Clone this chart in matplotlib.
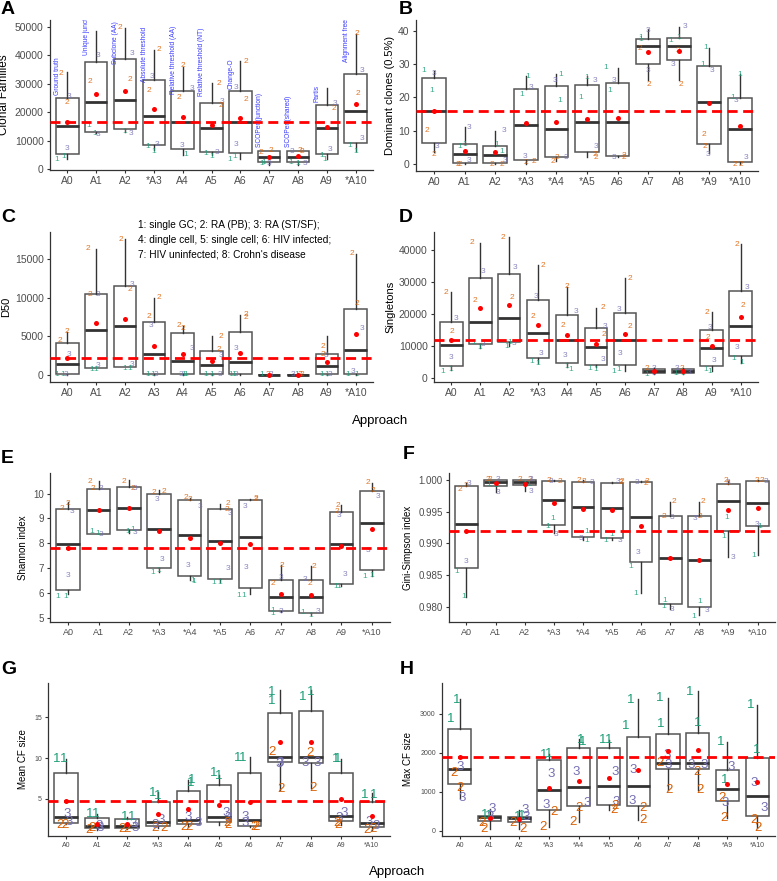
import matplotlib
matplotlib.use('Agg')
import matplotlib.pyplot as plt
from matplotlib.ticker import FormatStrFormatter

plt.rcParams['font.family'] = ['Liberation Sans', 'DejaVu Sans']

W, H = 777, 881
fig = plt.figure(figsize=(W / 100, H / 100), dpi=100)

COL = {'1': '#1B9E77', '2': '#D95F02', '3': '#7570B3'}

# ---------------- data ----------------
methods = ['Ground truth', 'Unique junction', 'Subclone (AA)', 'Absolute threshold',
           'Relative threshold (AA)', 'Relative threshold (NT)', 'Change-O',
           'SCOPer (junction)', 'SCOPer (shared)', 'Partis', 'Alignment free']
method_y = [26000, 40100, 37000, 30700, 26400, 25700, 28200, 7850, 7850, 23700, 37800]

# x tick labels per panel
A_xt = ['A0', 'A1', 'A2', '*A3', 'A4', 'A5', 'A6', 'A7', 'A8', 'A9', '*A10']
B_xt = ['A0', 'A1', 'A2', '*A3', '*A4', '*A5', 'A6', 'A7', 'A8', '*A9', '*A10']
C_xt = ['A0', 'A1', 'A2', 'A3', 'A4', 'A5', 'A6', 'A7', 'A8', 'A9', '*A10']
D_xt = ['A0', 'A1', 'A2', '*A3', 'A4', 'A5', 'A6', 'A7', 'A8', 'A9', '*A10']
E_xt = ['A0', 'A1', 'A2', '*A3', '*A4', '*A5', 'A6', 'A7', 'A8', 'A9', '*A10']
F_xt = ['A0', 'A1', 'A2', '*A3', '*A4', '*A5', 'A6', 'A7', 'A8', '*A9', '*A10']
G_xt = ['A0', 'A1', 'A2', '*A3', 'A4', 'A5', 'A6', 'A7', 'A8', 'A9', '*A10']
H_xt = ['A0', 'A1', 'A2', '*A3', '*A4', '*A5', 'A6', 'A7', 'A8', '*A9', '*A10']

# box stats: [whisker low, q1, median, q3, whisker high]
A_box = [[3500, 5200, 15300, 25000, 34200], [12600, 13200, 23500, 37700, 48600],
         [12900, 14000, 24300, 38600, 49800], [6800, 8300, 18600, 31500, 42000],
         [5000, 7000, 16500, 27500, 36000], [5000, 6000, 14600, 23400, 30400],
         [3500, 5700, 16500, 27600, 38000], [1500, 2500, 4400, 6200, 6500],
         [1300, 2500, 4400, 6200, 6400], [3500, 5200, 14300, 22700, 28400],
         [6200, 9000, 20400, 33600, 47700]]
A_mean = [16500, 26600, 27600, 21000, 18200, 15600, 18000, 4400, 4500, 14700, 23000]
A_ref = 16500
A_pts = [
    [('2', -0.23, 33500), ('3', 0.06, 25500), ('2', 0.0, 23500), ('3', 0.0, 7400), ('1', -0.35, 3300), ('1', -0.12, 4300)],
    [('3', 0.08, 40000), ('2', -0.2, 31000), ('1', -0.25, 15500), ('1', -0.06, 12600), ('3', 0.08, 12000)],
    [('2', -0.17, 49800), ('3', 0.26, 40700), ('2', 0.17, 31700), ('1', -0.02, 13200), ('3', 0.2, 12400)],
    [('2', 0.19, 42000), ('3', -0.08, 32700), ('2', -0.17, 27600), ('1', -0.2, 7900), ('1', -0.02, 6200), ('3', 0.1, 8500)],
    [('2', 0.0, 36600), ('3', 0.31, 28400), ('2', -0.13, 25100), ('3', -0.03, 8300), ('1', 0.12, 5000)],
    [('2', 0.26, 30100), ('3', 0.35, 23700), ('2', 0.33, 22200), ('3', 0.2, 5900), ('1', -0.2, 5600), ('1', 0.02, 4400)],
    [('2', 0.2, 38000), ('3', -0.15, 28600), ('2', 0.2, 24600), ('3', -0.14, 8500), ('1', -0.37, 3300), ('1', -0.2, 4400)],
    [('2', -0.27, 5700), ('2', 0.05, 6500), ('1', -0.27, 2000), ('1', -0.2, 2300), ('3', 0.0, 2000)],
    [('3', -0.2, 6200), ('2', 0.06, 6400), ('2', 0.12, 6000), ('1', -0.27, 2300), ('1', 0.0, 2000), ('3', 0.23, 2000)],
    [('3', 0.29, 23100), ('2', 0.23, 21400), ('3', 0.12, 6800), ('1', -0.17, 4800), ('1', -0.06, 3300)],
    [('2', 0.05, 47700), ('3', 0.23, 34800), ('2', 0.08, 26600), ('3', 0.23, 10900), ('1', -0.2, 8300), ('1', 0.0, 6200)],
]

B_box = [[3.7, 6.2, 16, 25.9, 28], [0, 0.2, 3.1, 5.9, 11], [0, 0.2, 2.6, 5.5, 10],
         [0, 1.3, 11.6, 22.5, 26.5], [1, 2, 10.5, 23.5, 27], [2.2, 3.5, 12.5, 23.7, 26.4],
         [2, 2.4, 12.5, 24.3, 29], [25.2, 30, 35.6, 37.7, 40.7], [25.2, 31.2, 35.6, 37.9, 41.2],
         [3.2, 6, 18.6, 29.5, 35], [0, 0.5, 10.5, 19.9, 27]]
B_mean = [15.9, 3.8, 3.5, 12.2, 12.7, 13.6, 13.9, 33.7, 34, 18.4, 11.4]
B_ref = 15.9
B_pts = [
    [('1', -0.35, 28), ('3', 0.0, 27.2), ('1', -0.1, 22.2), ('2', -0.24, 10), ('3', 0.09, 5.2), ('2', 0.0, 3)],
    [('3', 0.13, 11), ('1', -0.16, 5.2), ('1', 0.0, 6.0), ('2', -0.24, 0), ('2', -0.16, 0), ('3', 0.13, 1)],
    [('3', 0.27, 10), ('1', 0.03, 6), ('1', 0.22, 3.7), ('2', -0.1, 0), ('2', 0.2, 0), ('3', 0.33, 1.2)],
    [('1', 0.05, 26.4), ('3', 0.16, 23), ('1', -0.13, 21), ('3', -0.02, 2.2), ('2', 0.0, 0.5), ('2', 0.27, 0.7)],
    [('1', 0.14, 27), ('3', -0.04, 25), ('1', 0.12, 19), ('2', -0.13, 0.7), ('2', 0.03, 2), ('3', 0.3, 2)],
    [('1', 0.0, 26), ('3', 0.25, 25), ('1', -0.22, 20), ('3', 0.3, 5.2), ('2', 0.25, 3), ('2', 0.28, 2)],
    [('1', -0.38, 29), ('3', -0.13, 25), ('1', -0.24, 22), ('3', -0.13, 2), ('2', 0.2, 2), ('2', 0.22, 2.7)],
    [('3', 0.0, 40), ('1', -0.25, 38), ('1', -0.25, 37.3), ('2', -0.27, 34.7), ('3', 0.0, 28), ('2', 0.02, 24)],
    [('3', 0.22, 41.2), ('1', 0.0, 38), ('1', -0.25, 37), ('2', -0.03, 34.2), ('3', -0.18, 30), ('2', 0.09, 24)],
    [('1', -0.1, 35), ('1', -0.2, 30), ('3', 0.09, 28), ('2', -0.18, 9), ('2', -0.13, 5.2), ('3', -0.05, 3)],
    [('1', 0.0, 27), ('1', -0.22, 20), ('3', -0.11, 19), ('3', 0.2, 2), ('2', -0.16, 0), ('2', 0.05, 0)],
]

C_box = [[0, 100, 1400, 4100, 5600], [900, 900, 5800, 10500, 16400], [1100, 1100, 6300, 11500, 17600],
         [0, 100, 2700, 6900, 10000], [0, 100, 1800, 5400, 6400], [0, 100, 1300, 3100, 5000],
         [0, 100, 1700, 5600, 7800], [0, 0, 20, 50, 80], [0, 0, 20, 50, 80],
         [0, 100, 1200, 2700, 5000], [0, 100, 3200, 8500, 15700]]
C_mean = [2200, 6700, 7300, 3800, 2700, 1800, 2800, 30, 30, 1700, 5300]
C_ref = 2200
C_pts = [
    [('2', -0.03, 5700), ('2', -0.25, 4500), ('3', 0.06, 2700), ('1', -0.35, 100), ('1', -0.17, 100), ('3', -0.03, 100)],
    [('2', -0.29, 16400), ('2', -0.23, 10400), ('3', 0.08, 10500), ('3', 0.08, 1200), ('1', -0.17, 700), ('1', -0.02, 700)],
    [('2', -0.15, 17600), ('3', 0.26, 11700), ('2', 0.17, 11100), ('3', 0.23, 1400), ('1', 0.0, 900), ('1', 0.15, 900)],
    [('2', 0.19, 10000), ('2', -0.17, 7600), ('3', -0.1, 6400), ('1', -0.2, 100), ('1', -0.05, 100), ('3', 0.09, 100)],
    [('2', -0.13, 6400), ('2', 0.0, 6000), ('3', 0.31, 3500), ('3', -0.06, 100), ('1', 0.12, 100), ('1', 0.05, 100)],
    [('2', 0.31, 5000), ('2', 0.26, 3300), ('3', 0.33, 2500), ('1', -0.2, 100), ('1', 0.0, 100), ('3', 0.29, 100)],
    [('2', 0.2, 7800), ('2', 0.2, 7500), ('3', -0.15, 3500), ('1', -0.35, 100), ('3', -0.15, 100), ('1', -0.23, 100)],
    [('1', -0.27, 50), ('2', -0.05, 50), ('3', 0.05, 50)],
    [('3', -0.17, 50), ('2', 0.05, 50), ('2', 0.12, 50), ('1', -0.05, 50)],
    [('2', -0.12, 3700), ('2', -0.14, 2700), ('3', -0.02, 2500), ('1', -0.17, 100), ('1', -0.02, 100), ('3', 0.12, 100)],
    [('2', -0.13, 15700), ('2', 0.05, 9300), ('3', 0.23, 6000), ('3', -0.09, 400), ('1', -0.27, 100), ('1', 0.02, 100)],
]

D_box = [[2400, 3700, 10400, 17400, 26800], [9400, 10700, 17600, 31100, 42300],
         [9900, 11200, 18700, 32400, 43900], [4700, 6200, 13900, 24300, 35200],
         [3400, 4700, 12000, 19800, 28500], [3400, 4000, 9700, 15700, 21900],
         [2100, 4000, 11900, 20400, 31100], [1200, 1500, 2100, 2900, 3000],
         [1200, 1600, 2100, 2900, 3100], [2100, 3700, 9300, 14900, 20600],
         [4700, 7000, 16200, 27200, 41800]]
D_mean = [11800, 21800, 22700, 16500, 13400, 10600, 13600, 2100, 2300, 9900, 19000]
D_ref = 11900
D_pts = [
    [('2', -0.2, 26600), ('3', 0.15, 18500), ('2', 0.03, 14600), ('3', 0.0, 6300), ('1', -0.31, 2100), ('1', -0.02, 2600)],
    [('2', -0.28, 42300), ('3', 0.09, 33400), ('2', -0.2, 24300), ('3', 0.09, 10400), ('1', -0.23, 11000), ('1', -0.02, 9400)],
    [('2', -0.22, 43900), ('3', 0.2, 34500), ('2', 0.09, 25100), ('3', 0.15, 10700), ('1', -0.08, 9900), ('1', 0.03, 11000)],
    [('2', 0.17, 35200), ('3', -0.09, 25600), ('2', -0.17, 19300), ('3', 0.09, 7800), ('1', -0.23, 5200), ('1', 0.0, 4500)],
    [('2', 0.0, 28500), ('3', 0.3, 20900), ('2', -0.16, 16500), ('3', -0.06, 7100), ('1', 0.0, 3700), ('1', 0.12, 2800)],
    [('2', 0.25, 21900), ('3', 0.31, 16200), ('2', 0.28, 13600), ('3', 0.25, 5700), ('1', -0.2, 3100), ('1', 0.0, 2800)],
    [('2', 0.17, 31100), ('3', -0.2, 21400), ('2', 0.17, 16000), ('3', -0.17, 7600), ('1', -0.4, 2100), ('1', -0.23, 2600)],
    [('2', -0.25, 2900), ('3', 0.0, 2900), ('1', -0.23, 1100), ('3', 0.0, 1400)],
    [('3', -0.2, 3100), ('2', -0.03, 3100), ('1', -0.23, 1400), ('1', 0.0, 1400), ('3', 0.23, 1800)],
    [('2', -0.15, 20600), ('3', -0.06, 15700), ('2', -0.14, 12800), ('3', 0.08, 5500), ('1', -0.2, 2600), ('1', -0.08, 1900)],
    [('2', -0.12, 41800), ('3', 0.23, 28400), ('2', 0.08, 22700), ('3', -0.12, 9400), ('1', -0.23, 6000), ('1', 0.02, 4700)],
]

E_box = [[5.95, 6.11, 7.99, 9.4, 9.67], [8.36, 8.39, 9.36, 10.2, 10.5], [8.42, 8.53, 9.42, 10.27, 10.56],
         [6.85, 7.02, 8.58, 9.97, 10.13], [6.51, 6.69, 8.34, 9.73, 9.84], [6.45, 6.58, 8.1, 9.37, 9.6],
         [5.95, 6.21, 8.27, 9.73, 9.8], [5.24, 5.27, 5.84, 6.54, 7.14], [5.11, 5.21, 5.82, 6.51, 7.09],
         [6.27, 6.38, 7.96, 9.26, 9.56], [6.68, 6.94, 8.82, 10.11, 10.43]]
E_mean = [7.81, 9.36, 9.44, 8.5, 8.23, 8.02, 7.99, 5.95, 5.91, 7.88, 8.59]
E_ref = 7.81
E_pts = [
    [('2', 0.0, 9.6), ('2', -0.22, 9.4), ('3', 0.11, 9.26), ('3', 0.0, 6.72), ('1', -0.33, 5.87), ('1', -0.08, 5.87)],
    [('2', -0.3, 10.5), ('2', -0.2, 10.2), ('3', 0.09, 10.2), ('1', -0.24, 8.49), ('3', 0.09, 8.36), ('1', -0.02, 8.4)],
    [('2', -0.17, 10.5), ('2', 0.13, 10.2), ('3', 0.19, 10.2), ('1', -0.03, 8.49), ('1', 0.13, 8.55), ('3', 0.2, 8.42)],
    [('2', -0.17, 10.03), ('2', 0.16, 10.07), ('3', -0.07, 9.76), ('3', 0.1, 7.36), ('1', -0.22, 6.81), ('1', -0.03, 6.89)],
    [('2', -0.13, 9.83), ('2', 0.0, 9.77), ('3', 0.33, 9.49), ('3', -0.05, 7.12), ('1', 0.09, 6.51), ('1', 0.13, 6.47)],
    [('2', 0.27, 9.6), ('2', 0.23, 9.37), ('3', 0.33, 9.2), ('3', 0.25, 6.98), ('1', -0.22, 6.42), ('1', -0.02, 6.42)],
    [('2', 0.19, 9.77), ('2', 0.17, 9.8), ('3', -0.17, 9.49), ('3', -0.14, 7.02), ('1', -0.38, 5.91), ('1', -0.23, 5.91)],
    [('2', 0.03, 7.09), ('3', 0.0, 6.61), ('2', -0.27, 6.38), ('1', -0.27, 5.31), ('1', -0.25, 5.17), ('3', 0.0, 5.24)],
    [('2', 0.09, 7.05), ('2', -0.04, 6.38), ('3', -0.2, 6.55), ('1', -0.27, 5.21), ('1', 0.0, 5.11), ('3', 0.22, 5.24)],
    [('2', -0.11, 9.53), ('2', -0.14, 9.26), ('3', -0.07, 9.13), ('3', 0.11, 6.76), ('1', -0.2, 6.25), ('1', -0.09, 6.25)],
    [('2', -0.13, 10.43), ('2', 0.05, 10.13), ('3', 0.22, 9.87), ('3', -0.11, 7.72), ('1', -0.22, 6.65), ('1', 0.0, 6.72)],
]

F_box = [[0.98158, 0.98605, 0.993, 0.99905, 0.99958], [0.99816, 0.99911, 0.99963, 1.0, 1.0],
         [0.99826, 0.99921, 0.99963, 1.0, 1.0], [0.99158, 0.99284, 0.99684, 0.99984, 1.0],
         [0.99053, 0.99105, 0.99579, 0.99974, 1.0], [0.99053, 0.99079, 0.99553, 0.99958, 0.99974],
         [0.98211, 0.987, 0.99411, 0.99963, 0.9999], [0.97958, 0.98037, 0.98774, 0.99432, 0.99658],
         [0.97868, 0.98, 0.98737, 0.99432, 0.99658], [0.98789, 0.99195, 0.99668, 0.99937, 0.9999],
         [0.98816, 0.99274, 0.99642, 0.9999, 1.0]]
F_mean = [0.992, 0.99947, 0.99942, 0.99632, 0.99542, 0.99526, 0.99279, 0.98774, 0.98737, 0.99526, 0.99563]
F_ref = 0.992
F_pts = [
    [('2', -0.23, 0.99853), ('2', -0.02, 0.9992), ('3', 0.07, 0.99947), ('3', 0.0, 0.98721), ('1', -0.35, 0.98553), ('1', -0.08, 0.98158)],
    [('2', -0.26, 1.0), ('2', -0.2, 1.0), ('3', 0.08, 1.0), ('1', -0.23, 0.99921), ('3', 0.08, 0.998), ('1', 0.0, 0.99911)],
    [('2', -0.15, 1.0), ('2', 0.17, 1.0), ('3', 0.23, 1.0), ('1', 0.0, 0.99921), ('1', 0.15, 0.99921), ('3', 0.23, 0.99816)],
    [('2', -0.17, 0.9999), ('3', -0.09, 0.99974), ('2', 0.2, 0.99974), ('1', -0.03, 0.99395), ('1', -0.2, 0.99263), ('3', 0.08, 0.99147)],
    [('2', -0.14, 0.9999), ('2', 0.03, 0.99974), ('3', 0.32, 0.99958), ('1', 0.14, 0.99184), ('3', -0.06, 0.99079), ('1', 0.12, 0.99053)],
    [('2', 0.29, 0.99963), ('2', 0.35, 0.99974), ('3', 0.2, 0.99974), ('1', 0.0, 0.99147), ('1', -0.2, 0.99042), ('3', 0.29, 0.99053)],
    [('3', -0.14, 0.99963), ('2', 0.21, 0.99974), ('2', 0.18, 0.99947), ('3', -0.12, 0.98858), ('1', -0.35, 0.98642), ('1', -0.17, 0.98211)],
    [('2', 0.12, 0.99658), ('2', -0.2, 0.99421), ('3', 0.06, 0.99405), ('1', -0.18, 0.98105), ('1', -0.23, 0.98), ('3', 0.05, 0.97958)],
    [('2', 0.13, 0.99658), ('2', 0.01, 0.99421), ('3', -0.14, 0.99395), ('1', 0.03, 0.98079), ('1', -0.2, 0.97853), ('3', 0.27, 0.97947)],
    [('2', -0.08, 0.9999), ('2', -0.03, 0.99937), ('3', 0.0, 0.99963), ('1', -0.06, 0.99405), ('1', -0.17, 0.99105), ('3', 0.15, 0.98779)],
    [('2', -0.03, 0.9999), ('2', 0.14, 0.9999), ('3', 0.29, 0.99974), ('3', -0.03, 0.993), ('1', 0.06, 0.99274), ('1', -0.14, 0.98816)],
]

G_box = [[2.0, 2.02, 2.84, 8.22, 9.9], [1.2, 1.41, 1.73, 2.63, 3.16], [1.29, 1.41, 1.73, 2.51, 2.84],
         [1.41, 1.69, 2.22, 4.67, 5.9], [1.61, 1.9, 2.43, 6.02, 7.33], [1.82, 2.22, 2.84, 6.71, 7.94],
         [1.61, 1.73, 2.43, 8.14, 10.1], [6.1, 9.49, 10.18, 15.57, 18.35], [6.3, 9.37, 10.1, 15.8, 18.35],
         [1.82, 2.35, 2.96, 8.22, 9.9], [1.2, 1.53, 2.02, 4.67, 5.69]]
G_mean = [4.8, 1.94, 1.94, 3.12, 3.78, 4.27, 4.67, 11.94, 11.94, 4.96, 2.96]
G_ref = 4.8
G_pts = [
    [('1', -0.3, 9.86), ('1', -0.09, 9.86), ('3', 0.02, 3.16), ('3', 0.08, 2.22), ('2', -0.2, 1.82), ('2', -0.03, 1.82)],
    [('1', -0.24, 3.16), ('1', -0.05, 3.16), ('3', 0.08, 1.73), ('2', -0.27, 1.2), ('2', -0.16, 1.41), ('3', 0.11, 1.41)],
    [('1', -0.08, 2.84), ('1', 0.14, 2.84), ('3', 0.2, 1.94), ('2', -0.18, 1.29), ('2', 0.0, 1.29), ('3', 0.25, 1.41)],
    [('1', -0.18, 5.69), ('1', -0.02, 5.37), ('3', 0.09, 2.43), ('2', -0.11, 1.41), ('2', 0.2, 1.49), ('3', -0.08, 1.8)],
    [('1', 0.11, 7.33), ('1', 0.08, 6.93), ('3', -0.02, 2.84), ('3', 0.33, 2.1), ('2', -0.14, 1.61), ('2', 0.03, 1.61)],
    [('1', -0.18, 8.14), ('1', 0.0, 7.82), ('3', 0.25, 3.33), ('3', 0.3, 2.63), ('2', 0.25, 2.1), ('2', 0.3, 1.82)],
    [('1', -0.38, 9.98), ('1', -0.22, 9.98), ('3', -0.16, 2.84), ('3', -0.13, 2.02), ('2', 0.16, 1.61), ('2', 0.2, 1.61)],
    [('1', -0.27, 18.1), ('1', -0.27, 17.04), ('2', -0.25, 10.8), ('3', 0.0, 9.37), ('3', -0.03, 9.3), ('2', 0.02, 6.22)],
    [('1', -0.25, 17.5), ('1', 0.0, 18.1), ('2', -0.03, 10.6), ('3', -0.18, 9.37), ('3', 0.22, 9.37), ('2', 0.08, 6.3)],
    [('1', -0.18, 9.86), ('1', -0.1, 9.86), ('3', 0.09, 3.33), ('3', -0.08, 2.63), ('2', -0.13, 2.02), ('2', -0.1, 1.82)],
    [('1', -0.22, 5.49), ('1', 0.05, 5.49), ('3', -0.09, 2.22), ('3', 0.16, 1.69), ('2', -0.16, 1.2), ('2', 0.05, 1.29)],
]

H_box = [[831, 1191, 1577, 2605, 3376], [34, 249, 343, 377, 548], [34, 231, 317, 360, 531],
         [103, 531, 1045, 1817, 1970], [231, 634, 1114, 2117, 2348], [531, 660, 1148, 2117, 2331],
         [274, 643, 1157, 2416, 3376], [1045, 1577, 1731, 2485, 3402], [1045, 1577, 1731, 2502, 3599],
         [334, 771, 1063, 1560, 2288], [60, 377, 900, 1860, 3230]]
H_mean = [1902, 330, 300, 1105, 1285, 1362, 1560, 2048, 2074, 1200, 1260]
H_ref = 1902
H_pts = [
    [('1', -0.09, 3359), ('1', -0.31, 2870), ('3', 0.0, 1645), ('2', -0.2, 1474), ('2', 0.0, 1088), ('3', 0.08, 831)],
    [('3', 0.08, 548), ('1', -0.15, 403), ('1', -0.03, 380), ('3', 0.02, 360), ('2', -0.26, 206), ('2', -0.18, 34)],
    [('3', 0.19, 531), ('1', -0.07, 360), ('1', 0.08, 380), ('3', 0.22, 343), ('2', -0.22, 206), ('2', 0.13, 34)],
    [('1', -0.18, 1945), ('1', 0.0, 1970), ('3', 0.08, 1457), ('3', -0.09, 660), ('2', 0.16, 488), ('2', -0.2, 103)],
    [('1', 0.08, 2331), ('1', 0.12, 2280), ('3', -0.09, 1500), ('3', 0.28, 720), ('2', 0.0, 574), ('2', -0.18, 231)],
    [('1', -0.2, 2331), ('1', 0.0, 2331), ('3', 0.22, 1517), ('3', 0.26, 746), ('2', 0.22, 634), ('2', 0.17, 531)],
    [('1', -0.26, 3359), ('1', -0.42, 2691), ('3', -0.18, 1560), ('3', -0.2, 771), ('2', 0.16, 574), ('2', 0.16, 274)],
    [('1', -0.28, 3402), ('1', -0.26, 2742), ('3', -0.03, 1945), ('3', 0.0, 1688), ('2', -0.28, 1748), ('2', 0.03, 1045)],
    [('1', -0.28, 3573), ('1', 0.0, 2759), ('3', -0.22, 1688), ('3', 0.22, 1688), ('2', -0.03, 1517), ('2', 0.08, 1045)],
    [('1', -0.22, 2288), ('3', 0.11, 1645), ('1', -0.08, 1302), ('2', -0.17, 831), ('3', -0.08, 720), ('2', -0.11, 334)],
    [('1', -0.22, 3230), ('1', 0.0, 2074), ('3', -0.11, 1217), ('3', 0.22, 574), ('2', -0.11, 274), ('2', 0.03, 60)],
]

legend_lines = ['1: single GC; 2: RA (PB); 3: RA (ST/SF);',
                '4: dingle cell, 5: single cell; 6: HIV infected;',
                '7: HIV uninfected; 8: Crohn\'s disease']


# ---------------- drawing ----------------
def panel(rect, box, mean, ref, pts, xt, ylim, yticks, ylabel, ylab_x,
          fmt=None, lab_fs=6.0, lab_alpha=0.85, tick_fs=7.5, ylab_fs=8.0, xtick_fs=7.5):
    l, t, r, b = rect
    ax = fig.add_axes([l / W, 1 - b / H, (r - l) / W, (b - t) / H])
    stats = [dict(whislo=v[0], q1=v[1], med=v[2], q3=v[3], whishi=v[4], fliers=[]) for v in box]
    ax.bxp(stats, positions=list(range(len(box))), widths=0.78, showcaps=False,
           showfliers=False, patch_artist=True,
           boxprops=dict(facecolor='white', edgecolor='#555555', linewidth=1.1),
           medianprops=dict(color='#333333', linewidth=2.0, solid_capstyle='butt'),
           whiskerprops=dict(color='#333333', linewidth=1.0))
    for i, plist in enumerate(pts):
        for lab, dx, y in plist:
            ax.text(i + dx, y, lab, color=COL[lab], fontsize=lab_fs, ha='center',
                    va='center', alpha=lab_alpha, zorder=4)
    ax.plot(list(range(len(mean))), mean, 'o', color='red', ms=3.6, mec='none', zorder=6)
    ax.axhline(ref, color='red', lw=2.0, ls=(0, (3.6, 2.0)), zorder=5)
    ax.set_xlim(-0.6, len(box) - 0.4)
    ax.set_ylim(*ylim)
    ax.set_yticks(yticks)
    if fmt:
        ax.yaxis.set_major_formatter(FormatStrFormatter(fmt))
    ax.set_xticks(list(range(len(xt))))
    ax.set_xticklabels(xt, fontsize=xtick_fs, color='#4D4D4D')
    ax.tick_params(axis='y', labelsize=tick_fs, labelcolor='#4D4D4D')
    ax.tick_params(length=2.5, width=0.8, color='#333333', pad=2)
    for s in ['top', 'right']:
        ax.spines[s].set_visible(False)
    for s in ['left', 'bottom']:
        ax.spines[s].set_color('#333333')
        ax.spines[s].set_linewidth(0.9)
    ax.set_ylabel(ylabel, fontsize=ylab_fs, color='black')
    # ylab_x is the right edge (baseline side) of the rotated label, in pixels
    ax.yaxis.set_label_coords((ylab_x - l) / (r - l), 0.5)
    return ax


axA = panel((50, 20, 373, 170), A_box, A_mean, A_ref, A_pts, A_xt, (-350, 52500),
            [0, 10000, 20000, 30000, 40000, 50000], 'Clonal Families', 10, ylab_fs=8.5)
for i, (name, y) in enumerate(zip(methods, method_y)):
    axA.text(i - 0.33, y, name, rotation=90, fontsize=4.8, color='#3A3AFF',
             ha='center', va='bottom', clip_on=True, zorder=7)

panel((416, 20, 758, 171), B_box, B_mean, B_ref, B_pts, B_xt, (-2.1, 43.3),
      [0, 10, 20, 30, 40], 'Dominant clones (0.5%)', 395)

axC = panel((50, 232, 373, 382), C_box, C_mean, C_ref, C_pts, C_xt, (-900, 18540),
            [0, 5000, 10000, 15000], 'D50', 11)
for k, line in enumerate(legend_lines):
    fig.text(138 / W, 1 - (225 + 14.7 * k) / H, line, fontsize=7.3, ha='left', va='center')

panel((434, 232, 758, 382), D_box, D_mean, D_ref, D_pts, D_xt, (-1250, 45600),
      [0, 10000, 20000, 30000, 40000], 'Singletons', 395)

panel((50, 473, 390, 622), E_box, E_mean, E_ref, E_pts, E_xt, (4.83, 10.83),
      [5, 6, 7, 8, 9, 10], 'Shannon index', 28, ylab_fs=7.0, tick_fs=7.0, xtick_fs=6.5)

panel((449, 473, 775, 622), F_box, F_mean, F_ref, F_pts, F_xt, (0.9776, 1.0011),
      [0.980, 0.985, 0.990, 0.995, 1.000], 'Gini-Simpson index', 413, fmt='%.3f',
      ylab_fs=7.0, tick_fs=7.0, xtick_fs=6.5)

panel((48, 683, 390, 836), G_box, G_mean, G_ref, G_pts, G_xt, (0.47, 19.2),
      [5, 10, 15], 'Mean CF size', 28, lab_fs=9.5, lab_alpha=1.0, tick_fs=5.0,
      ylab_fs=7.0, xtick_fs=5.0)

panel((442, 683, 775, 836), H_box, H_mean, H_ref, H_pts, H_xt, (-137, 3797),
      [0, 1000, 2000, 3000], 'Max CF size', 413, lab_fs=9.5, lab_alpha=1.0, tick_fs=5.0,
      ylab_fs=7.0, xtick_fs=5.0)

# panel letters
for letter, x, y in [('A', 1, 9), ('B', 399, 10), ('C', 1, 217), ('D', 399, 218),
                     ('E', 1, 458), ('F', 403, 455), ('G', 1, 670), ('H', 400, 670)]:
    fig.text(x / W, 1 - y / H, letter, fontsize=14, fontweight='bold', ha='left', va='center')

fig.text(380 / W, 1 - 421 / H, 'Approach', fontsize=9.5, ha='center', va='center')
fig.text(397 / W, 1 - 872 / H, 'Approach', fontsize=9.5, ha='center', va='center')

fig.savefig('out.png', dpi=100)
